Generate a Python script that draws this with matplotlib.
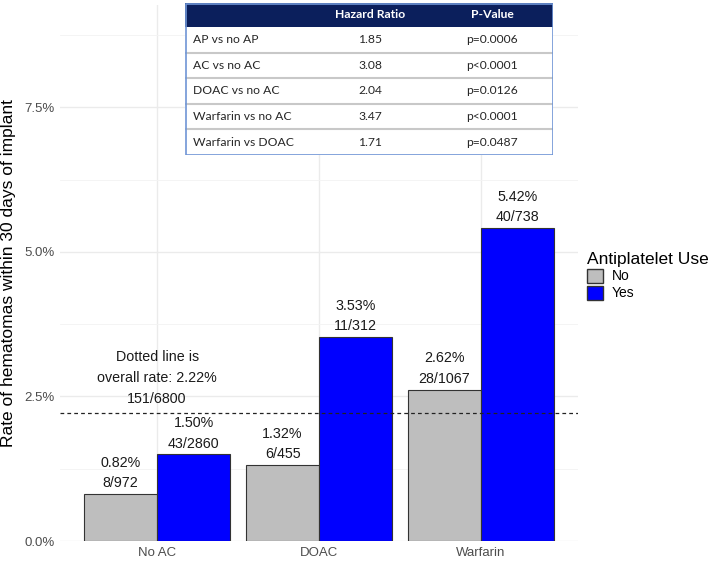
import numpy as np
import matplotlib
matplotlib.use("Agg")
import matplotlib.pyplot as plt
from matplotlib.patches import Rectangle, Patch

plt.rcParams['font.family'] = ['Liberation Sans', 'DejaVu Sans']

categories = ["No AC", "DOAC", "Warfarin"]
rate_no = [0.82, 1.32, 2.62]
rate_yes = [1.50, 3.53, 5.42]
counts_no = ["8/972", "6/455", "28/1067"]
counts_yes = ["43/2860", "11/312", "40/738"]
overall_rate = 2.22
overall_count = "151/6800"

comparisons = ["AP vs no AP", "AC vs no AC", "DOAC vs no AC", "Warfarin vs no AC", "Warfarin vs DOAC"]
hazard_ratios = ["1.85", "3.08", "2.04", "3.47", "1.71"]
p_values = ["p=0.0006", "p<0.0001", "p=0.0126", "p<0.0001", "p=0.0487"]

W, H = 726, 561
fig = plt.figure(figsize=(W / 100, H / 100), dpi=100)
ax = fig.add_axes([60 / W, 20 / H, (578 - 60) / W, (556 - 20) / H])

x = np.arange(1, len(categories) + 1)
bw = 0.45
grey = "#bebebe"
blue = "#0000ff"
b1 = ax.bar(x - bw / 2, rate_no, bw, color=grey, edgecolor="#333333", linewidth=0.8, zorder=3)
b2 = ax.bar(x + bw / 2, rate_yes, bw, color=blue, edgecolor="#333333", linewidth=0.8, zorder=3)

for bars, vals, cnts in [(b1, rate_no, counts_no), (b2, rate_yes, counts_yes)]:
    for r, v, c in zip(bars, vals, cnts):
        ax.text(r.get_x() + r.get_width() / 2, v + 0.06, f"{v:.2f}%\n{c}",
                ha="center", va="bottom", fontsize=10.3, color="#1a1a1a",
                linespacing=1.6, zorder=4)

ax.axhline(overall_rate, color="#222222", linestyle=(0, (3, 2.5)), linewidth=0.9, zorder=4)
ax.text(1, overall_rate + 0.12, f"Dotted line is\noverall rate: {overall_rate:.2f}%\n{overall_count}",
        ha="center", va="bottom", fontsize=10.3, color="#1a1a1a", linespacing=1.6)

ax.set_xlim(0.4, 3.6)
ax.set_ylim(0, 9.27)
ax.set_xticks(x)
ax.set_xticklabels(categories)
ax.set_yticks([0, 2.5, 5, 7.5])
ax.set_yticklabels(["0.0%", "2.5%", "5.0%", "7.5%"])
ax.set_yticks([1.25, 3.75, 6.25, 8.75], minor=True)
ax.tick_params(axis="both", length=0, labelsize=9.5, labelcolor="#4d4d4d", pad=4)
ax.tick_params(axis="y", which="minor", length=0)
ax.grid(True, which="major", color="#ebebeb", linewidth=1.0, zorder=0)
ax.grid(True, which="minor", axis="y", color="#f3f3f3", linewidth=0.6, zorder=0)
for s in ax.spines.values():
    s.set_visible(False)
ax.set_ylabel("Rate of hematomas within 30 days of implant", fontsize=12.5, labelpad=6)

handles = [Patch(facecolor=grey, edgecolor="#333333", label="No"),
           Patch(facecolor=blue, edgecolor="#333333", label="Yes")]
fig.legend(handles=handles, title="Antiplatelet Use", loc="upper left",
           bbox_to_anchor=(581 / W, 1 - 246 / H), frameon=False, fontsize=10,
           title_fontsize=12.5, handlelength=1.2, handleheight=1.2,
           handletextpad=0.6, labelspacing=0.15, borderaxespad=0, alignment="left")

# hazard ratio table
tx0, tx1, ty0, ty1 = 185, 553, 3, 155
tax = fig.add_axes([tx0 / W, 1 - ty1 / H, (tx1 - tx0) / W, (ty1 - ty0) / H])
tax.set_xlim(tx0, tx1)
tax.set_ylim(ty1, ty0)
tax.axis("off")
tax.add_patch(Rectangle((tx0, ty0), tx1 - tx0, ty1 - ty0, facecolor="white", edgecolor="none", zorder=0))
head_h = 24
row_h = (ty1 - ty0 - head_h) / len(comparisons)
tax.add_patch(Rectangle((tx0, ty0), tx1 - tx0, head_h, facecolor="#0b1f5c", edgecolor="none", zorder=1))
tfont = ['Lato', 'DejaVu Sans']
tsize = 8.7
col_hr, col_p = 370, 492
tax.text(col_hr, ty0 + head_h / 2, "Hazard Ratio", ha="center", va="center", color="white",
         fontsize=tsize, fontweight="bold", family=tfont)
tax.text(col_p, ty0 + head_h / 2, "P-Value", ha="center", va="center", color="white",
         fontsize=tsize, fontweight="bold", family=tfont)
for i, (c, hr, p) in enumerate(zip(comparisons, hazard_ratios, p_values)):
    yc = ty0 + head_h + row_h * (i + 0.5)
    tax.text(tx0 + 8, yc, c, ha="left", va="center", fontsize=tsize, color="#262626", family=tfont)
    tax.text(col_hr, yc, hr, ha="center", va="center", fontsize=tsize, color="#262626", family=tfont)
    tax.text(col_p, yc, p, ha="center", va="center", fontsize=tsize, color="#262626", family=tfont)
    if i > 0:
        yl = ty0 + head_h + row_h * i
        tax.plot([tx0, tx1], [yl, yl], color="#c8c8c8", linewidth=1.5, zorder=2)
tax.add_patch(Rectangle((tx0 + 0.5, ty0 + 0.5), tx1 - tx0 - 1, ty1 - ty0 - 1, facecolor="none",
                        edgecolor="#6f95d6", linewidth=1.2, zorder=3))

fig.savefig("out.png", dpi=100)
